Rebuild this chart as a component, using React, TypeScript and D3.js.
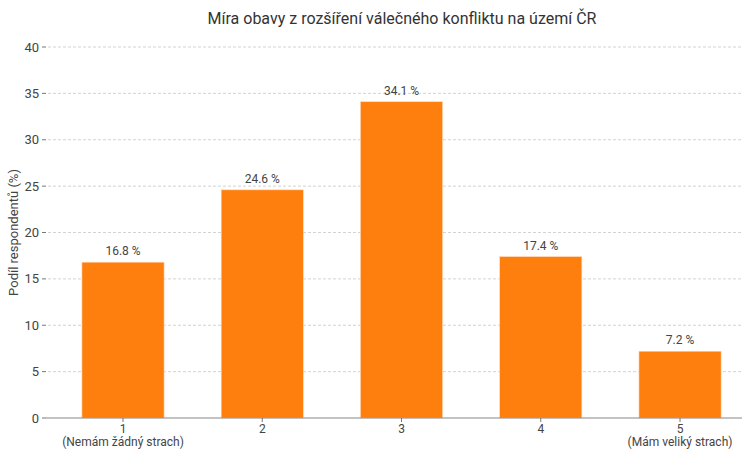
import React from "react";
import * as d3 from "d3";

const categories = [1, 2, 3, 4, 5];
const subLabels = ["(Nemám žádný strach)", "", "", "", "(Mám veliký strach)"];
const shares = [16.8, 24.6, 34.1, 17.4, 7.2];
const yTicks = [0, 5, 10, 15, 20, 25, 30, 35, 40];

const W = 742;
const H = 450;
const FONT = "Roboto, 'Open Sans', sans-serif";

export default function App() {
  const x = d3.scaleLinear().domain([0.447, 5.445]).range([46, 742]);
  const y = d3.scaleLinear().domain([0, 40]).range([418, 47]);
  const barW = x(1.59) - x(1);

  return (
    <svg width={W} height={H} style={{ position: "absolute", left: 0, top: 0 }}>
      <rect width={W} height={H} fill="#fff" />
      <text x={402} y={24} textAnchor="middle" fontFamily={FONT} fontSize={16} fill="#333">
        Míra obavy z rozšíření válečného konfliktu na území ČR
      </text>

      {/* grid + y ticks */}
      {yTicks.map((t) => (
        <g key={t}>
          {t > 0 && (
            <line x1={48} x2={W} y1={y(t)} y2={y(t)} stroke="#c8c8c8" strokeWidth={0.8} strokeDasharray="3,2" />
          )}
          <line x1={42} x2={46} y1={y(t)} y2={y(t)} stroke="#777" strokeWidth={1} />
          <text x={39} y={y(t)} dy="0.35em" textAnchor="end" fontFamily={FONT} fontSize={13} fill="#444">
            {t}
          </text>
        </g>
      ))}

      <text
        transform={`translate(18,${(y(0) + y(40)) / 2}) rotate(-90)`}
        textAnchor="middle"
        fontFamily={FONT}
        fontSize={13}
        fill="#444"
      >
        Podíl respondentů (%)
      </text>

      {/* bars */}
      {categories.map((c, i) => (
        <g key={c}>
          <rect
            x={x(c) - barW / 2}
            y={y(shares[i])}
            width={barW}
            height={y(0) - y(shares[i])}
            fill="#ff7f0e"
            stroke="#ffd9b8"
            strokeWidth={0.6}
          />
          <text x={x(c)} y={y(shares[i]) - 7} textAnchor="middle" fontFamily={FONT} fontSize={12} fill="#444">
            {shares[i].toFixed(1)} %
          </text>
        </g>
      ))}

      {/* x axis */}
      <line x1={46} x2={W} y1={y(0)} y2={y(0)} stroke="#888" strokeWidth={1.2} />
      {categories.map((c, i) => (
        <g key={"x" + c}>
          <line x1={x(c)} x2={x(c)} y1={y(0)} y2={y(0) + 4} stroke="#777" />
          <text x={x(c)} y={433} textAnchor="middle" fontFamily={FONT} fontSize={12} fill="#444">
            {c}
          </text>
          {subLabels[i] && (
            <text x={x(c)} y={446} textAnchor="middle" fontFamily={FONT} fontSize={12} fill="#444">
              {subLabels[i]}
            </text>
          )}
        </g>
      ))}
    </svg>
  );
}
